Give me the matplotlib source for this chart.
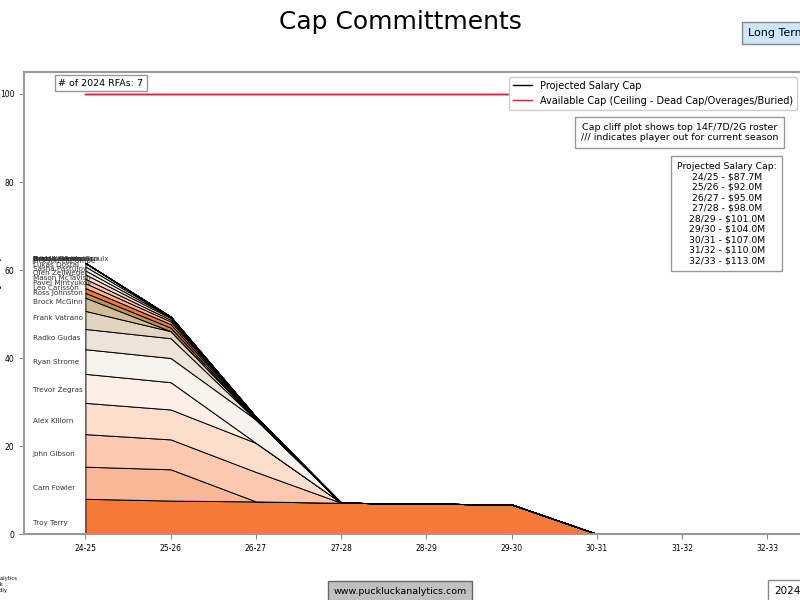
import matplotlib.pyplot as plt
import numpy as np

# seasons on the x axis
seasons = ['24-25', '25-26', '26-27', '27-28', '28-29', '29-30', '30-31', '31-32', '32-33']

# players, bottom of the stack first
players = ['Troy Terry', 'Cam Fowler', 'John Gibson', 'Alex Killorn', 'Trevor Zegras',
           'Ryan Strome', 'Radko Gudas', 'Frank Vatrano', 'Brock McGinn', 'Ross Johnston',
           'Leo Carlsson', 'Pavel Mintyukov', 'Mason McTavish', 'Olen Zellweger',
           'Sasha Pastujov', 'Lukas Dostal', 'Jackson LaCombe', 'Isac Lundestrom',
           'Brett Leason', 'Tristan Luneau', 'Urho Vaakanainen', 'Jansen Harkins',
           'Benoit-Olivier Groulx']

# % of projected cap per season
pct = [
    [8.0, 7.6, 7.4, 7.1, 6.9, 6.7, 0, 0, 0],
    [7.3, 7.1, 0, 0, 0, 0, 0, 0, 0],
    [7.4, 6.8, 6.7, 0, 0, 0, 0, 0, 0],
    [7.1, 6.8, 6.6, 0, 0, 0, 0, 0, 0],
    [6.6, 6.2, 0, 0, 0, 0, 0, 0, 0],
    [5.6, 5.5, 5.3, 0, 0, 0, 0, 0, 0],
    [4.6, 4.5, 0, 0, 0, 0, 0, 0, 0],
    [4.1, 1.6, 0, 0, 0, 0, 0, 0, 0],
    [3.0, 0, 0, 0, 0, 0, 0, 0, 0],
    [1.1, 0.8, 0, 0, 0, 0, 0, 0, 0],
    [1.1, 0.8, 0.2, 0, 0, 0, 0, 0, 0],
    [1.1, 0.6, 0.2, 0, 0, 0, 0, 0, 0],
    [1.0, 0.4, 0, 0, 0, 0, 0, 0, 0],
    [1.0, 0.4, 0.2, 0, 0, 0, 0, 0, 0],
    [0.9, 0.2, 0, 0, 0, 0, 0, 0, 0],
    [0.9, 0.1, 0, 0, 0, 0, 0, 0, 0],
    [0.8, 0, 0, 0, 0, 0, 0, 0, 0],
    [0, 0, 0, 0, 0, 0, 0, 0, 0],
    [0, 0, 0, 0, 0, 0, 0, 0, 0],
    [0, 0, 0, 0, 0, 0, 0, 0, 0],
    [0, 0, 0, 0, 0, 0, 0, 0, 0],
    [0, 0, 0, 0, 0, 0, 0, 0, 0],
    [0, 0, 0, 0, 0, 0, 0, 0, 0],
]

projected_caps = ['24/25 - $87.7M', '25/26 - $92.0M', '26/27 - $95.0M', '27/28 - $98.0M',
                  '28/29 - $101.0M', '29/30 - $104.0M', '30/31 - $107.0M', '31/32 - $110.0M',
                  '32/33 - $113.0M']
cap_line = [100] * len(seasons)
available_line = [100] * len(seasons)
n_rfas = 7

colors = ['#F47A38', '#F8B898', '#FAC9AF', '#FCDDCC', '#FDEFE6',
          '#F6F2EC', '#ECE4D8', '#E2D5BF', '#D3BE9A', '#B9975B']

x = np.arange(len(seasons))
pct = np.array(pct)

fig = plt.figure(figsize=(8, 6), dpi=100)
ax = fig.add_axes([0.03, 0.11, 0.972, 0.77])

ax.stackplot(x, pct, colors=[colors[i % len(colors)] for i in range(len(players))],
             edgecolor='black', linewidth=0.7)

# player names at the start of each band
cum = np.cumsum(pct[:, 0])
for i, name in enumerate(players):
    mid = cum[i] - pct[i, 0] / 2
    ax.text(-0.62, mid * 1.04 - 1.6, name, fontsize=5.2, color='#333333',
            ha='left', va='center')

ax.plot(x, cap_line, color='black', linewidth=1, label='Projected Salary Cap')
ax.plot(x, available_line, color='#d62728', linewidth=1,
        label='Available Cap (Ceiling - Dead Cap/Overages/Buried)')

ax.set_xlim(-0.72, 8.4)
ax.set_ylim(0, 105)
ax.set_xticks(x)
ax.set_xticklabels(seasons)
ax.set_yticks([0, 20, 40, 60, 80, 100])
ax.tick_params(labelsize=5.5, color='#888888')
for s in ax.spines.values():
    s.set_color('#999999')
    s.set_linewidth(1.5)
ax.set_ylabel('% of Salary Cap', fontsize=9)
ax.yaxis.set_label_coords(-0.028, 0.5)

ax.legend(loc='upper right', fontsize=7, framealpha=1, borderaxespad=0.5)

ax.text(0.044, 0.985, f'# of 2024 RFAs: {n_rfas}', transform=ax.transAxes, fontsize=6.8,
        ha='left', va='top', bbox=dict(facecolor='white', edgecolor='#999999', pad=2.5))
ax.text(0.97, 0.89, 'Cap cliff plot shows top 14F/7D/2G roster\n/// indicates player out for current season',
        transform=ax.transAxes, fontsize=6.8, ha='right', va='top', multialignment='center',
        bbox=dict(facecolor='white', edgecolor='#999999'))
ax.text(0.904, 0.806, 'Projected Salary Cap:\n' + '\n'.join(projected_caps),
        transform=ax.transAxes, fontsize=6.7, ha='center', va='top', multialignment='center',
        linespacing=1.22, bbox=dict(facecolor='white', edgecolor='#999999'))

fig.text(0.5, 0.963, 'Cap Committments', fontsize=18, ha='center', va='center')
fig.text(0.935, 0.945, 'Long Term Cap Outlook', fontsize=8, ha='left', va='center',
         bbox=dict(facecolor='#CCE6FA', edgecolor='#888888'))
fig.text(0.5, 0.015, 'www.puckluckanalytics.com', fontsize=6.8, ha='center', va='center',
         bbox=dict(facecolor='#C0C0C0', edgecolor='#666666'))
fig.text(0.9675, 0.015, '2024-Mar-20', fontsize=7.5, ha='left', va='center',
         bbox=dict(facecolor='white', edgecolor='#888888'))
fig.text(-0.08, 0.026, 'Created by PuckLuck Analytics\nOriginal idea by @Patrick\nContract data: CapFriendly',
         fontsize=3.8, ha='left', va='center', linespacing=1.3)

fig.savefig('out.png')
